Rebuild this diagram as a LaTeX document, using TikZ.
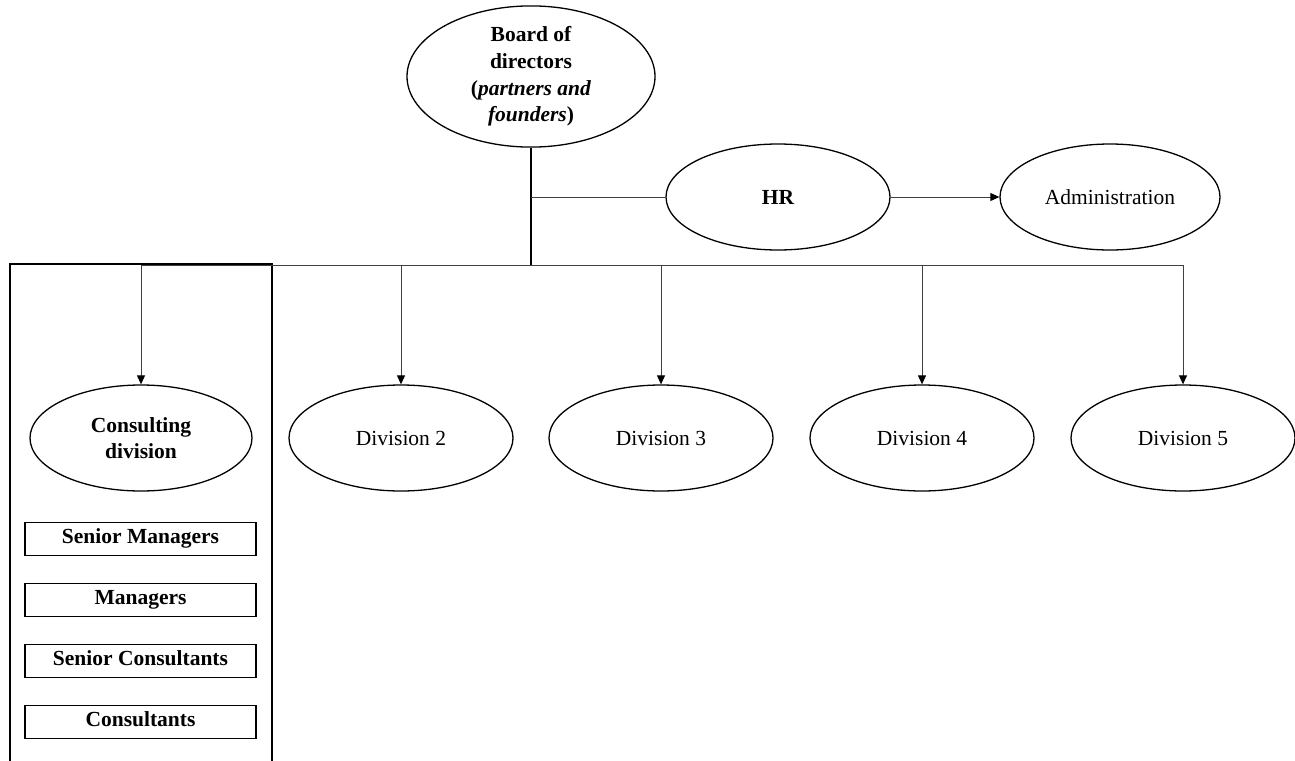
\documentclass[tikz,border=0pt]{standalone}
\usepackage{fontspec}
\setmainfont{Liberation Serif}
\usetikzlibrary{shapes.geometric, arrows.meta}

\newcommand{\chartsize}{\fontsize{21.5}{26.7}\selectfont}

\tikzset{
  unit/.style={draw, ellipse, line width=1.3pt, minimum width=224pt, minimum height=106pt, inner sep=0pt, align=center},
  bold/.style={font=\chartsize\bfseries},
  rank/.style={draw, rectangle, line width=1.3pt, minimum width=231pt, minimum height=33pt, inner sep=0pt,
    text height=14pt, text depth=5pt, bold},
  link/.style={black!75, line width=1pt},
  feed/.style={link, -{Triangle[length=9pt, width=8pt, black]}},
}

\begin{document}
\begin{tikzpicture}[x=1pt, y=1pt, every node/.style={font=\chartsize}]
  \useasboundingbox (0, 0) rectangle (1295, -760);

  % Top of the chart
  \node[unit, bold, minimum width=248pt, minimum height=135pt] (board) at (531, -76.5)
    {Board of\\directors\\(\textit{partners and}\\\textit{founders})};
  \node[unit, bold] (hr) at (778, -197) {HR};
  \node[unit, minimum width=220pt] (admin) at (1110, -197) {Administration};
  \coordinate (hub) at (531, -265);

  % Divisions
  \node[unit, bold, minimum width=222pt] (cons) at (141, -438) {Consulting\\division};
  \node[unit] (div2) at (401, -438) {Division 2};
  \node[unit] (div3) at (661, -438) {Division 3};
  \node[unit] (div4) at (922, -438) {Division 4};
  \node[unit] (div5) at (1183, -438) {Division 5};

  % Ranks inside the consulting division
  \node[rank] (senmgr) at (140.5, -539) {Senior Managers};
  \node[rank] (mgr) at (140.5, -600) {Managers};
  \node[rank] (sencons) at (140.5, -661) {Senior Consultants};
  \node[rank] (junior) at (140.5, -722) {Consultants};

  % Frame round the consulting division (runs off the bottom)
  \draw[line width=1.6pt] (272, -775) -- (272, -264) -- (10, -264) -- (10, -775);

  % Connectors
  \draw[line width=2.6pt] (board.south) -- (hub);
  \draw[link] (board.south |- hr.west) -- (hr.west);
  \draw[feed] (hr.east) -- (admin.west);
  \draw[link] (cons.north |- hub) -- (div5.north |- hub);
  \foreach \d in {cons, div2, div3, div4, div5}
    \draw[feed] (\d.north |- hub) -- (\d.north);
\end{tikzpicture}
\end{document}
